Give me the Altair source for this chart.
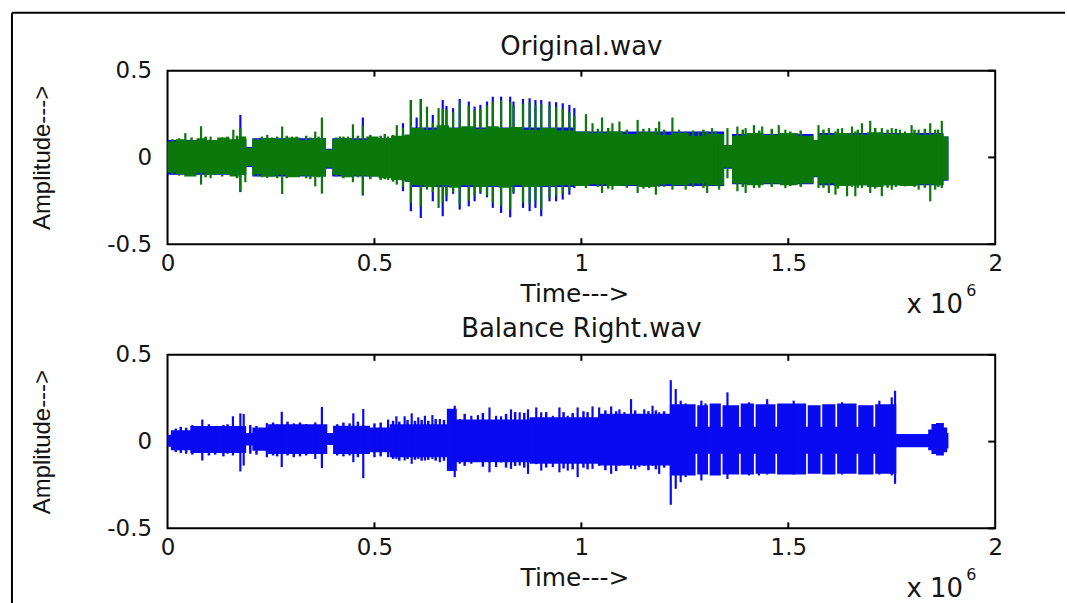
import altair as alt
import pandas as pd

# ---------------- data (x in units of 10^6 samples, amplitude) ----------------
# Original.wav : blue channel, dense body envelope (step)
ob_env_x = [0.000, 0.190, 0.205, 0.383, 0.398, 0.573, 0.590, 0.983, 1.345, 1.364,
            1.561, 1.573, 1.875, 1.887]
ob_env_top = [0.10, 0.06, 0.11, 0.05, 0.11, 0.13, 0.172, 0.15, 0.07, 0.135,
              0.10, 0.14, 0.12, 0.0]
ob_env_bot = [-0.10, -0.055, -0.11, -0.065, -0.11, -0.14, -0.17, -0.165, -0.065, -0.155,
              -0.115, -0.16, -0.135, 0.0]

# Original.wav : blue channel peaks
ob_spk_x = [0.176, 0.472, 0.569, 0.588, 0.602, 0.612, 0.641, 0.665, 0.674, 0.690,
            0.706, 0.728, 0.742, 0.756, 0.772, 0.786, 0.806, 0.828, 0.836, 0.859,
            0.875, 0.889, 0.903, 0.923, 0.939, 0.955, 0.971, 0.983]
ob_spk_top = [0.245, 0.23, 0.197, 0.331, 0.23, 0.337, 0.245, 0.331, 0.297, 0.284,
              0.337, 0.322, 0.293, 0.303, 0.322, 0.35, 0.35, 0.35, 0.322, 0.337,
              0.341, 0.331, 0.331, 0.322, 0.318, 0.312, 0.303, 0.284]
ob_spk_bot = [-0.20, -0.22, -0.195, -0.31, -0.15, -0.349, -0.253, -0.339, -0.253, -0.21,
              -0.301, -0.282, -0.253, -0.21, -0.23, -0.291, -0.32, -0.345, -0.21, -0.291,
              -0.31, -0.291, -0.339, -0.253, -0.253, -0.243, -0.215, -0.177]

# Original.wav : green channel, dense body envelope (step)
og_env_x = [0.000, 0.020, 0.045, 0.070, 0.095, 0.120, 0.150, 0.172, 0.190, 0.205,
            0.230, 0.260, 0.290, 0.320, 0.350, 0.383, 0.398, 0.420, 0.450, 0.480,
            0.510, 0.540, 0.573, 0.590, 0.620, 0.650, 0.680, 0.710, 0.740, 0.770,
            0.800, 0.830, 0.860, 0.900, 0.940, 0.983, 1.020, 1.060, 1.100, 1.140,
            1.180, 1.220, 1.260, 1.300, 1.345, 1.364, 1.400, 1.440, 1.480, 1.520,
            1.561, 1.573, 1.610, 1.650, 1.690, 1.730, 1.770, 1.810, 1.850, 1.875,
            1.887]
og_env_top = [0.092, 0.105, 0.098, 0.11, 0.10, 0.115, 0.105, 0.12, 0.055, 0.10,
              0.11, 0.105, 0.115, 0.10, 0.11, 0.045, 0.105, 0.11, 0.10, 0.12,
              0.11, 0.125, 0.13, 0.17, 0.16, 0.185, 0.17, 0.18, 0.165, 0.18,
              0.17, 0.175, 0.16, 0.17, 0.155, 0.15, 0.14, 0.15, 0.135, 0.145,
              0.13, 0.14, 0.125, 0.135, 0.07, 0.125, 0.14, 0.13, 0.14, 0.125,
              0.10, 0.13, 0.14, 0.13, 0.145, 0.135, 0.14, 0.13, 0.135, 0.12,
              0.0]
og_env_bot = [-0.088, -0.095, -0.11, -0.09, -0.10, -0.095, -0.11, -0.10, -0.05, -0.095,
              -0.11, -0.10, -0.115, -0.105, -0.11, -0.06, -0.10, -0.115, -0.105, -0.11,
              -0.12, -0.13, -0.14, -0.16, -0.17, -0.16, -0.175, -0.16, -0.17, -0.165,
              -0.175, -0.16, -0.17, -0.165, -0.16, -0.165, -0.155, -0.165, -0.16, -0.17,
              -0.155, -0.16, -0.15, -0.16, -0.06, -0.15, -0.16, -0.15, -0.16, -0.15,
              -0.11, -0.15, -0.165, -0.16, -0.17, -0.16, -0.165, -0.155, -0.16, -0.13,
              0.0]

# Original.wav : green channel peaks
og_spk_x = [0.043, 0.081, 0.104, 0.159, 0.176, 0.188, 0.219, 0.241, 0.277, 0.301,
            0.357, 0.373, 0.417, 0.436, 0.448, 0.472, 0.533, 0.554, 0.569, 0.588,
            0.602, 0.612, 0.627, 0.641, 0.655, 0.665, 0.674, 0.690, 0.706, 0.728,
            0.742, 0.756, 0.772, 0.786, 0.806, 0.828, 0.836, 0.859, 0.875, 0.889,
            0.903, 0.923, 0.939, 0.955, 0.971, 0.983, 1.011, 1.027, 1.050, 1.075,
            1.092, 1.136, 1.164, 1.180, 1.188, 1.220, 1.236, 1.252, 1.283, 1.304,
            1.316, 1.333, 1.353, 1.377, 1.397, 1.417, 1.437, 1.477, 1.493, 1.521,
            1.541, 1.573, 1.598, 1.614, 1.630, 1.642, 1.654, 1.662, 1.678, 1.698,
            1.726, 1.750, 1.770, 1.782, 1.798, 1.815, 1.843, 1.855, 1.871]
og_spk_top = [0.14, 0.18, 0.12, 0.16, 0.17, 0.11, 0.107, 0.13, 0.178, 0.12,
              0.149, 0.23, 0.121, 0.12, 0.191, 0.18, 0.121, 0.186, 0.17, 0.331,
              0.169, 0.337, 0.293, 0.20, 0.284, 0.28, 0.274, 0.26, 0.312, 0.30,
              0.27, 0.28, 0.30, 0.32, 0.33, 0.32, 0.30, 0.31, 0.32, 0.30,
              0.31, 0.30, 0.29, 0.28, 0.26, 0.24, 0.249, 0.197, 0.23, 0.197,
              0.207, 0.216, 0.169, 0.17, 0.207, 0.23, 0.16, 0.149, 0.149, 0.149,
              0.169, 0.121, 0.169, 0.178, 0.169, 0.186, 0.178, 0.186, 0.16, 0.14,
              0.121, 0.186, 0.169, 0.15, 0.169, 0.14, 0.178, 0.15, 0.197, 0.211,
              0.169, 0.169, 0.16, 0.15, 0.186, 0.16, 0.197, 0.16, 0.211]
og_spk_bot = [-0.11, -0.157, -0.12, -0.10, -0.195, -0.143, -0.109, -0.119, -0.211, -0.10,
              -0.167, -0.209, -0.10, -0.109, -0.143, -0.215, -0.13, -0.157, -0.17, -0.262,
              -0.143, -0.282, -0.186, -0.20, -0.291, -0.26, -0.22, -0.20, -0.27, -0.25,
              -0.22, -0.20, -0.22, -0.26, -0.28, -0.30, -0.20, -0.26, -0.27, -0.25,
              -0.30, -0.23, -0.22, -0.21, -0.19, -0.16, -0.177, -0.15, -0.205, -0.186,
              -0.16, -0.205, -0.177, -0.215, -0.17, -0.186, -0.16, -0.186, -0.157, -0.205,
              -0.16, -0.186, -0.12, -0.195, -0.205, -0.177, -0.157, -0.15, -0.177, -0.157,
              -0.14, -0.177, -0.205, -0.215, -0.16, -0.224, -0.17, -0.224, -0.177, -0.205,
              -0.224, -0.186, -0.16, -0.167, -0.15, -0.186, -0.253, -0.186, -0.177]

# Original.wav : green channel, small ripples on the body edge
og_min_x = [0.012, 0.028, 0.058, 0.092, 0.132, 0.145, 0.168, 0.208, 0.228, 0.252,
            0.265, 0.288, 0.312, 0.335, 0.345, 0.365, 0.408, 0.425, 0.460, 0.490,
            0.515, 0.525, 0.545, 1.040, 1.065, 1.110, 1.150, 1.200, 1.270, 1.295,
            1.325, 1.390, 1.430, 1.460, 1.505, 1.530, 1.585, 1.620, 1.668, 1.710,
            1.740, 1.760, 1.805, 1.830, 1.862]
og_min_top = [0.105, 0.11, 0.115, 0.12, 0.115, 0.12, 0.125, 0.11, 0.12, 0.115,
              0.12, 0.125, 0.12, 0.125, 0.115, 0.12, 0.115, 0.12, 0.125, 0.13,
              0.125, 0.135, 0.13, 0.165, 0.17, 0.16, 0.165, 0.16, 0.155, 0.16,
              0.15, 0.16, 0.155, 0.165, 0.15, 0.155, 0.16, 0.165, 0.16, 0.17,
              0.16, 0.165, 0.16, 0.165, 0.16]
og_min_bot = [-0.10, -0.105, -0.10, -0.115, -0.11, -0.10, -0.12, -0.105, -0.115, -0.11,
              -0.12, -0.12, -0.11, -0.12, -0.125, -0.115, -0.11, -0.12, -0.115, -0.125,
              -0.13, -0.125, -0.14, -0.17, -0.18, -0.175, -0.18, -0.17, -0.17, -0.175,
              -0.165, -0.17, -0.175, -0.17, -0.165, -0.17, -0.175, -0.18, -0.175, -0.18,
              -0.175, -0.17, -0.17, -0.175, -0.17]

# Balance Right.wav : body envelope (step)
br_env_x = [0.000, 0.008, 0.055, 0.190, 0.205, 0.243, 0.386, 0.400, 0.489, 0.537,
            0.675, 0.699, 0.875, 1.043, 1.214, 1.276, 1.280, 1.306, 1.310, 1.337,
            1.341, 1.381, 1.385, 1.417, 1.421, 1.469, 1.473, 1.543, 1.547, 1.578,
            1.582, 1.614, 1.618, 1.665, 1.669, 1.706, 1.710, 1.761, 1.838, 1.846,
            1.857, 1.876, 1.884, 1.887]
br_env_top = [0.04, 0.065, 0.09, 0.05, 0.082, 0.10, 0.05, 0.092, 0.082, 0.10,
              0.19, 0.127, 0.14, 0.16, 0.216, 0.085, 0.21, 0.085, 0.22, 0.085,
              0.21, 0.085, 0.22, 0.085, 0.215, 0.085, 0.22, 0.085, 0.21, 0.085,
              0.215, 0.085, 0.22, 0.085, 0.21, 0.085, 0.215, 0.044, 0.07, 0.101,
              0.107, 0.082, 0.05, 0.0]
br_env_bot = [-0.03, -0.05, -0.065, -0.023, -0.052, -0.071, -0.02, -0.071, -0.061, -0.09,
              -0.17, -0.119, -0.128, -0.138, -0.195, -0.07, -0.19, -0.07, -0.195, -0.07,
              -0.19, -0.07, -0.19, -0.07, -0.185, -0.07, -0.19, -0.07, -0.185, -0.07,
              -0.19, -0.07, -0.185, -0.07, -0.19, -0.07, -0.185, -0.032, -0.05, -0.071,
              -0.08, -0.061, -0.04, 0.0]

# Balance Right.wav : peaks
br_spk_x = [0.084, 0.158, 0.176, 0.184, 0.240, 0.276, 0.357, 0.373, 0.449, 0.473,
            0.533, 0.553, 0.573, 0.590, 0.606, 0.622, 0.640, 0.658, 0.694, 0.706,
            0.734, 0.750, 0.778, 0.794, 0.806, 0.830, 0.851, 0.871, 0.891, 0.903,
            0.931, 0.947, 0.967, 0.991, 1.027, 1.043, 1.072, 1.092, 1.104, 1.120,
            1.140, 1.152, 1.172, 1.188, 1.216, 1.228, 1.240, 1.252, 1.290, 1.300,
            1.353, 1.405, 1.429, 1.449, 1.513, 1.630, 1.720, 1.750, 1.758]
br_spk_top = [0.127, 0.146, 0.163, 0.159, 0.107, 0.172, 0.111, 0.20, 0.163, 0.188,
              0.127, 0.146, 0.146, 0.163, 0.14, 0.149, 0.153, 0.13, 0.207, 0.13,
              0.149, 0.153, 0.197, 0.149, 0.146, 0.186, 0.169, 0.186, 0.197, 0.169,
              0.149, 0.197, 0.149, 0.197, 0.203, 0.197, 0.203, 0.186, 0.17, 0.245,
              0.16, 0.186, 0.207, 0.169, 0.354, 0.303, 0.236, 0.22, 0.236, 0.22,
              0.284, 0.227, 0.20, 0.245, 0.236, 0.227, 0.236, 0.255, 0.293]
br_spk_bot = [-0.109, -0.08, -0.172, -0.138, -0.09, -0.147, -0.10, -0.153, -0.119, -0.211,
              -0.09, -0.10, -0.109, -0.128, -0.10, -0.109, -0.10, -0.119, -0.205, -0.128,
              -0.128, -0.11, -0.177, -0.147, -0.12, -0.157, -0.138, -0.186, -0.13, -0.167,
              -0.147, -0.177, -0.167, -0.205, -0.157, -0.14, -0.186, -0.14, -0.138, -0.157,
              -0.147, -0.14, -0.14, -0.186, -0.364, -0.272, -0.234, -0.205, -0.224, -0.186,
              -0.215, -0.195, -0.195, -0.19, -0.19, -0.19, -0.19, -0.195, -0.243]

# Balance Right.wav : small ripples on the body edge
br_min_x = [0.020, 0.032, 0.045, 0.060, 0.100, 0.115, 0.135, 0.145, 0.200, 0.215,
            0.255, 0.265, 0.290, 0.305, 0.320, 0.335, 0.410, 0.425, 0.440, 0.460,
            0.500, 0.515, 0.545, 0.560, 0.580, 0.598, 0.614, 0.630, 0.648, 0.668,
            0.718, 0.762, 0.818, 0.840, 0.862, 0.915, 0.957, 0.979, 1.005, 1.015,
            1.058, 1.084, 1.130, 1.162, 1.180, 1.200]
br_min_top = [0.075, 0.085, 0.08, 0.095, 0.10, 0.09, 0.095, 0.10, 0.095, 0.09,
              0.11, 0.10, 0.115, 0.105, 0.11, 0.10, 0.10, 0.11, 0.105, 0.115,
              0.105, 0.11, 0.12, 0.115, 0.125, 0.12, 0.125, 0.12, 0.13, 0.125,
              0.16, 0.165, 0.16, 0.17, 0.165, 0.17, 0.17, 0.165, 0.175, 0.17,
              0.18, 0.175, 0.18, 0.175, 0.18, 0.175]
br_min_bot = [-0.06, -0.065, -0.07, -0.075, -0.08, -0.075, -0.085, -0.07, -0.07, -0.075,
              -0.08, -0.085, -0.08, -0.09, -0.085, -0.08, -0.08, -0.085, -0.08, -0.09,
              -0.09, -0.085, -0.10, -0.11, -0.10, -0.105, -0.11, -0.105, -0.11, -0.11,
              -0.14, -0.145, -0.15, -0.14, -0.15, -0.15, -0.155, -0.16, -0.15, -0.16,
              -0.165, -0.17, -0.16, -0.165, -0.16, -0.15]

x_ticks = [0, 0.5, 1, 1.5, 2]
y_ticks = [-0.5, 0, 0.5]
titles = ["Original.wav", "Balance Right.wav"]
x_title = "Time--->"
y_title = "Amplitude--->"
exp_base = "x 10"
exp_power = "6"

# ---------------- styling ----------------
BLUE = "#0a0af0"
GREEN = "#0a780a"
TXT = "#141414"
FONT = "DejaVu Sans"
W, H = 830, 174

X = alt.X("x:Q", scale=alt.Scale(domain=[0, 2], nice=False, zero=False),
          axis=alt.Axis(values=x_ticks, format="~g", title=x_title, ticks=False, domain=False,
                        grid=False, labelFlush=False, labelPadding=8, labelFont=FONT,
                        labelFontSize=23, labelColor=TXT, titleFont=FONT, titleFontSize=25,
                        titleFontWeight="normal", titleColor=TXT, titleX=408, titleY=49,
                        titleBaseline="middle", titleAlign="center"))
Y = alt.Y("top:Q", scale=alt.Scale(domain=[-0.5, 0.5], nice=False, zero=False),
          axis=alt.Axis(values=y_ticks, labelExpr="replace(format(datum.value, '~g'), '\u2212', '-')",
                        title=y_title, ticks=False, domain=False, grid=False, labelFlush=False,
                        labelPadding=16, labelFont=FONT, labelFontSize=23, labelColor=TXT,
                        titleFont="Liberation Sans", titleFontSize=24, titleFontWeight="normal",
                        titleColor=TXT, titleX=-125, titleY=87, titleAngle=270,
                        titleBaseline="middle", titleAlign="center"))


def df3(xs, ts, bs):
    return pd.DataFrame({"x": xs, "top": ts, "bot": bs})


def panel(channels, title, title_y, frame=False):
    layers = []
    # each channel: body envelope, ripples, peaks; later channels are drawn on top
    for env, mins, spk, color in channels:
        layers.append(alt.Chart(df3(*env)).mark_area(
            interpolate="step-after", color=color, opacity=1).encode(x=X, y=Y, y2="bot"))
        if mins is not None:
            layers.append(alt.Chart(df3(*mins)).mark_rule(
                color=color, strokeWidth=2.5).encode(x=X, y=Y, y2="bot"))
        layers.append(alt.Chart(df3(*spk)).mark_rule(
            color=color, strokeWidth=2.2).encode(x=X, y=Y, y2="bot"))
    inner = pd.DataFrame({"x": x_ticks[1:-1]})
    layers.append(alt.Chart(inner).mark_rule(color="black", strokeWidth=2).encode(
        x=X, y=alt.value(0), y2=alt.value(6)))
    layers.append(alt.Chart(inner).mark_rule(color="black", strokeWidth=2).encode(
        x=X, y=alt.value(H), y2=alt.value(H - 6)))
    yt = pd.DataFrame({"top": y_ticks})
    layers.append(alt.Chart(yt).mark_rule(color="black", strokeWidth=2).encode(
        y=Y, x=alt.value(W), x2=alt.value(W - 7)))
    layers.append(alt.Chart(pd.DataFrame({"t": [title]})).mark_text(
        font=FONT, fontSize=26, align="center", baseline="alphabetic", color=TXT).encode(
        text="t:N", x=alt.value(W / 2), y=alt.value(title_y)))
    layers.append(alt.Chart(pd.DataFrame({"t": [exp_base]})).mark_text(
        font=FONT, fontSize=26, align="left", baseline="middle", color=TXT).encode(
        text="t:N", x=alt.value(741), y=alt.value(235)))
    layers.append(alt.Chart(pd.DataFrame({"t": [exp_power]})).mark_text(
        font=FONT, fontSize=16, align="left", baseline="middle", color=TXT).encode(
        text="t:N", x=alt.value(801), y=alt.value(221)))
    if frame:
        one = pd.DataFrame({"k": [0]})
        layers.append(alt.Chart(one).mark_rule(color="black", strokeWidth=2).encode(
            x=alt.value(-156), y=alt.value(-58), y2=alt.value(534)))
        layers.append(alt.Chart(one).mark_rule(color="black", strokeWidth=2).encode(
            x=alt.value(-156), x2=alt.value(900), y=alt.value(-58)))
    return alt.layer(*layers).properties(width=W, height=H)


top = panel(
    channels=[((ob_env_x, ob_env_top, ob_env_bot), None,
               (ob_spk_x, ob_spk_top, ob_spk_bot), BLUE),
              ((og_env_x, og_env_top, og_env_bot), (og_min_x, og_min_top, og_min_bot),
               (og_spk_x, og_spk_top, og_spk_bot), GREEN)],
    title=titles[0], title_y=-16, frame=True)
bottom = panel(
    channels=[((br_env_x, br_env_top, br_env_bot), (br_min_x, br_min_top, br_min_bot),
               (br_spk_x, br_spk_top, br_spk_bot), BLUE)],
    title=titles[1], title_y=-18)

chart = alt.vconcat(top, bottom, spacing=111, bounds="flush").properties(
    padding={"left": 10, "top": 10, "right": 0, "bottom": 0},
    background="white",
).configure_view(stroke="black", strokeWidth=2)

chart.save("out.html", embed_options={"renderer": "svg", "actions": False})
